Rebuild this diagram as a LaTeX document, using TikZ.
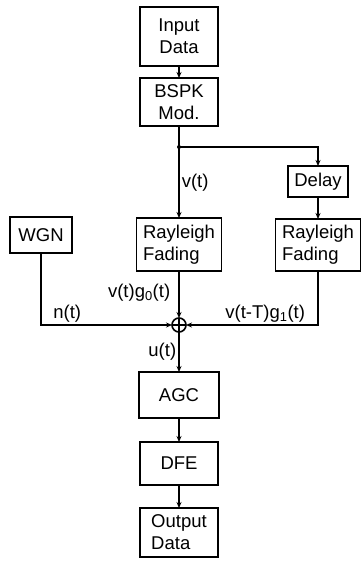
\documentclass[tikz,border=0pt]{standalone}
\usepackage{fontspec}
\setmainfont{Liberation Sans}
\usetikzlibrary{arrows.meta, positioning}

\begin{document}
\begin{tikzpicture}[
        x=1pt, y=1pt,
        blk/.style={draw, line width=1.6pt, align=center, inner sep=2pt, outer sep=0pt,
            font=\fontsize{18.5}{22}\selectfont},
        lbl/.style={inner sep=2pt, font=\fontsize{18.5}{22}\selectfont},
        line width=1.6pt,
        >={Stealth[length=6pt, width=5pt]} % Small solid arrowheads
    ]
        \useasboundingbox (0,0) rectangle (360,-561);

        % Define the main vertical chain
        \node[blk, minimum width=78pt, minimum height=59pt] (in) at (179,-36.5) {Input\\Data};
        \node[blk, minimum width=78pt, minimum height=48pt] (mod) [below=12pt of in] {BSPK\\Mod.};
        \node[blk, minimum width=85pt, minimum height=53pt, align=left] (fade0) [below=92pt of mod] {Rayleigh\\Fading};
        \node[draw, circle, minimum size=14pt, inner sep=0pt, outer sep=0pt] (sum) [below=47pt of fade0] {};
        \node[blk, minimum width=80pt, minimum height=46pt] (agc) [below=40pt of sum] {AGC};
        \node[blk, minimum width=78pt, minimum height=43pt] (dfe) [below=24pt of agc] {DFE};
        \node[blk, minimum width=78pt, minimum height=49pt, align=left] (out) [below=23pt of dfe] {Output\\Data};

        % Define the side branches
        \node[blk, minimum width=60pt, minimum height=31pt] (delay) at (318,-181.5) {Delay};
        \node[blk, minimum width=85pt, minimum height=52pt, align=left] (fade1) [below=22pt of delay] {Rayleigh\\Fading};
        \node[blk, minimum width=62pt, minimum height=36pt] (wgn) at (41,-235) {WGN};
        \coordinate[below=21pt of mod] (br);

        % Draw the summing junction
        \draw (sum.north) -- (sum.south) (sum.west) -- (sum.east);

        % Draw the main path
        \draw[->] (in) -- (mod);
        \draw[->] (mod) -- node[lbl, right, pos=0.62] {v(t)} (fade0);
        \draw[->] (fade0) -- node[lbl, left=6pt, pos=0.47] {v(t)g\textsubscript{0}(t)} (sum);
        \draw[->] (sum) -- node[lbl, left, pos=0.5] {u(t)} (agc);
        \draw[->] (agc) -- (dfe);
        \draw[->] (dfe) -- (out);

        % Draw the delayed path and the noise input
        \fill (br) circle (2pt);
        \draw[->] (br) -| (delay);
        \draw[->] (delay) -- (fade1);
        \draw[->] (fade1) |- node[lbl, above, pos=0.7] {v(t-T)g\textsubscript{1}(t)} (sum);
        \draw[->] (wgn) |- node[lbl, above, pos=0.6] {n(t)} (sum);

    \end{tikzpicture}
\end{document}
